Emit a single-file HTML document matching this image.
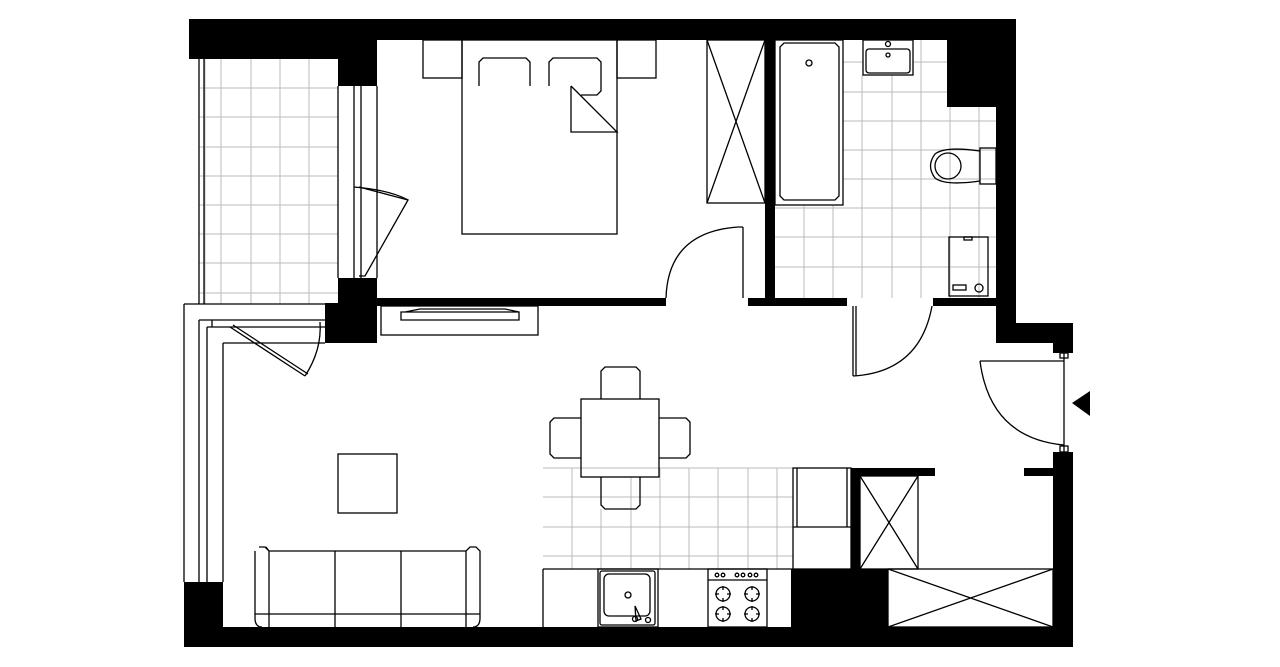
<!DOCTYPE html>
<html><head><meta charset="utf-8"><style>html,body{margin:0;padding:0;background:#fff}svg{display:block}</style></head>
<body>
<svg width="1280" height="667" viewBox="0 0 1280 667" xmlns="http://www.w3.org/2000/svg">
<g stroke="#bbb" stroke-width="1" fill="none">
<!-- balcony tiles -->
<path d="M205 59V304M221 59V304M251 59V304M280 59V304M309 59V304M199 88H338M199 117H338M199 147H338M199 176H338M199 205H338M199 234H338M199 263H338M199 293H338"/>
<!-- bathroom tiles -->
<path d="M804 205V298M833 205V298M862 75V298M892 75V298M921 40V298M950 107V298M979 107V298M843 62H863M913 62H947M843 92H947M843 121H996M843 150H996M843 179H996M775 208H996M775 237H996M775 267H996"/>
<!-- kitchen tiles -->
<path d="M572 468V569M601 509V569M631 477V569M660 468V569M689 468V569M718 468V569M748 468V569M777 468V569M543 497H793M543 527H793M543 556H793M543 468H793"/>
</g>
<g fill="#000">
<rect x="189" y="19" width="827" height="21"/>
<rect x="189" y="19" width="149" height="40"/>
<rect x="338" y="19" width="39" height="67"/>
<rect x="338" y="278" width="39" height="25"/>
<rect x="325" y="303" width="52" height="40"/>
<rect x="377" y="298" width="289" height="8"/>
<rect x="748" y="298" width="99" height="8"/>
<rect x="933" y="298" width="63" height="8"/>
<rect x="765" y="40" width="10" height="266"/>
<rect x="947" y="40" width="49" height="67"/>
<rect x="996" y="19" width="20" height="324"/>
<rect x="996" y="323" width="77" height="20"/>
<rect x="1053" y="323" width="20" height="30"/>
<rect x="1053" y="452" width="20" height="195"/>
<rect x="1024" y="468" width="29" height="8"/>
<rect x="851" y="468" width="84" height="8"/>
<rect x="851" y="468" width="9" height="101"/>
<rect x="791" y="569" width="97" height="58"/>
<rect x="184" y="582" width="39" height="65"/>
<rect x="189" y="627" width="884" height="20"/>
<polygon points="1072,403 1090,391 1090,416"/>
</g>
<g stroke="#000" stroke-width="1.3" fill="none">
<!-- balcony -->
<path d="M199 59V304M204 59V304"/>
<!-- window bedroom -->
<path d="M354 86V278M361 86V278M338 86V278M377 86V278"/>
<path d="M359 187L408 200L365 276L359 276"/>
<path d="M354 187Q390 190 408 200"/>
<!-- living left window/door -->
<path d="M184 304H325M184 304V582M199 320V582M207 327V582M223 343V582M199 320H325M207 327H325M223 343H325M212 320V327"/>
<path d="M230 327L305 376M233 325L308 374"/>
<path d="M305 376Q322 350 320 322"/>
<!-- bedroom door -->
<path d="M743 227V298M738 227H743M666 298Q668 232 738 227"/>
<!-- wardrobe -->
<rect x="707" y="40" width="58" height="163"/>
<path d="M707 40L765 203M765 40L707 203"/>
<!-- nightstands, bed -->
<rect x="423" y="40" width="39" height="38"/>
<rect x="617" y="40" width="39" height="38"/>
<rect x="462" y="40" width="155" height="194"/>
<path d="M479 86V62L483 58H526L530 62V86"/>
<path d="M549 86V62L553 58H597L601 62V91L597 95H581"/>
<path d="M571 86V132H617L571 86"/>
<!-- shelf tv -->
<rect x="381" y="306" width="157" height="29"/>
<path d="M401 312H519V320H401ZM405 312L420 309H505L519 312"/>
<!-- bath -->
<rect x="775" y="40" width="68" height="165"/>
<path d="M780 47L784 43H835L839 47V196L835 200H784L780 196Z"/>
<circle cx="809" cy="63" r="3"/>
<!-- sink bath -->
<rect x="863" y="40" width="50" height="35"/>
<rect x="866" y="49" width="44" height="24" rx="3"/>
<circle cx="888" cy="44" r="2.5"/><circle cx="888" cy="55" r="2"/>
<!-- toilet -->
<rect x="980" y="148" width="16" height="36"/>
<path d="M980 151Q945 146 935 154Q926 166 935 178Q945 186 980 181"/>
<ellipse cx="948" cy="166" rx="13" ry="13"/>
<!-- washer -->
<rect x="949" y="237" width="39" height="59"/>
<rect x="964" y="237" width="8" height="3"/>
<rect x="953" y="285" width="13" height="5"/>
<circle cx="979" cy="288" r="4"/>
<!-- bath door -->
<path d="M853 306V376M856 306V376M853 376Q920 372 932 306"/>
<!-- entry door -->
<path d="M1064 353V452M980 361H1064M980 361Q990 438 1064 445"/>
<rect x="1060" y="353" width="8" height="5"/><rect x="1060" y="446" width="8" height="6"/>
<!-- coffee table -->
<rect x="338" y="454" width="59" height="59"/>
<!-- sofa -->
<path d="M259 547H265L269 551V627M255 551V618Q255 627 262 627M466 551L470 547H476L480 551V618Q480 627 473 627M269 551H335M335 551H401M401 551H466M269 551L266 547M335 551V627M401 551V627M466 551V627M255 614H480"/>
<!-- dining -->
<rect x="581" y="399" width="78" height="78"/>
<path d="M601 399V371L605 367H636L640 371V399M601 477V505L605 509H636L640 505V477M581 418H554L550 422V454L554 458H581M659 418H686L690 422V454L686 458H659"/>
<!-- counter -->
<path d="M543 569H793M543 569V627"/>
<rect x="598" y="569" width="60" height="58"/>
<rect x="600" y="571" width="55" height="54" rx="2"/>
<rect x="604" y="574" width="46" height="42" rx="5"/>
<circle cx="628" cy="595" r="3"/>
<path d="M635 606L641 619L636 621Z"/><circle cx="635" cy="619" r="2.5"/><circle cx="648" cy="620" r="2.5"/>
<rect x="708" y="569" width="59" height="58"/>
<path d="M708 580H767"/>
<circle cx="717" cy="575" r="1.8"/><circle cx="723" cy="575" r="1.8"/><circle cx="737" cy="575" r="1.8"/><circle cx="743" cy="575" r="1.8"/><circle cx="750" cy="575" r="1.8"/><circle cx="756" cy="575" r="1.8"/>
<circle cx="723" cy="594" r="7"/><circle cx="752" cy="594" r="7"/><circle cx="723" cy="614" r="7"/><circle cx="752" cy="614" r="7"/>
<path d="M723 586V590M723 598V602M715 594H719M727 594H731M752 586V590M752 598V602M744 594H748M756 594H760M723 606V610M723 618V622M715 614H719M727 614H731M752 606V610M752 618V622M744 614H748M756 614H760"/>
<!-- fridge -->
<rect x="793" y="468" width="58" height="101"/>
<path d="M793 527H851M797 468V527M847 468V527"/>
<!-- cabinet -->
<rect x="860" y="476" width="58" height="93"/>
<path d="M860 476L918 569M918 476L860 569"/>
<rect x="888" y="569" width="165" height="58"/>
<path d="M888 569L1053 627M1053 569L888 627"/>
</g>
</svg>
</body></html>
